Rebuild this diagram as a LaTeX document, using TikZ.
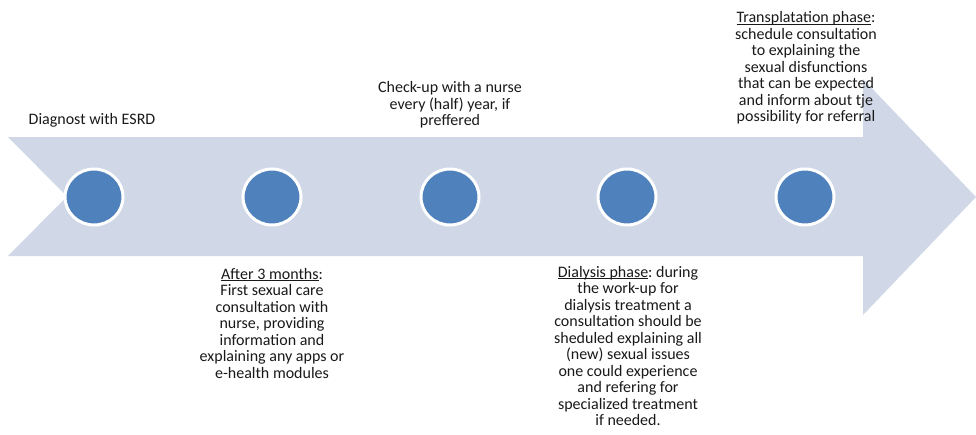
\documentclass[tikz,border=0pt]{standalone}
\usepackage{fontspec}
\setmainfont{Carlito}
\usetikzlibrary{shapes.geometric}
\definecolor{arrowfill}{HTML}{D0D8E8}
\definecolor{dotblue}{HTML}{4F81BD}
\newcommand\myul[1]{\setbox0\hbox{#1}\rlap{\rule[-1.8pt]{\wd0}{0.7pt}}\box0}
\frenchspacing
\begin{document}
\begin{tikzpicture}[x=1pt,y=-1pt,
  dot/.style={ellipse,minimum width=58pt,minimum height=56pt,inner sep=0pt,fill=dotblue,draw=white,line width=3pt},
  lbl/.style={align=center,inner sep=0pt,font=\fontsize{16}{16.5}\selectfont\frenchspacing,text=black!90}]
\useasboundingbox (0,0) rectangle (976,434);
% notched arrow
\fill[arrowfill] (8,137) -- (863,137) -- (863,79) -- (976,197) -- (863,315) -- (863,256) -- (8,256) -- (67,196.5) -- cycle;
% dots
\node[dot] (c1) at (94,197) {};
\node[dot] (c2) at (272,197) {};
\node[dot] (c3) at (450,197) {};
\node[dot] (c4) at (627,197) {};
\node[dot] (c5) at (805,197) {};
% labels
\node[lbl] (t1) at (92,120) {Diagnost with ESRD};
\node[lbl] (t2) at (272,323) {\myul{After 3 months}:\\First sexual care\\consultation with\\nurse, providing\\information and\\explaining any apps or\\e-health modules};
\node[lbl] (t3) at (450,105) {Check-up with a nurse\\every (half) year, if\\preffered};
\node[lbl] (t4) at (628,346) {\myul{Dialysis phase}: during\\the work-up for\\dialysis treatment a\\consultation should be\\sheduled explaining all\\(new) sexual issues\\one could experience\\and refering for\\specialized treatment\\if needed.};
\node[lbl] (t5) at (806,68) {\myul{Transplatation phase}:\\schedule consultation\\to explaining the\\sexual disfunctions\\that can be expected\\and inform about tje\\possibility for referral};
\end{tikzpicture}
\end{document}
